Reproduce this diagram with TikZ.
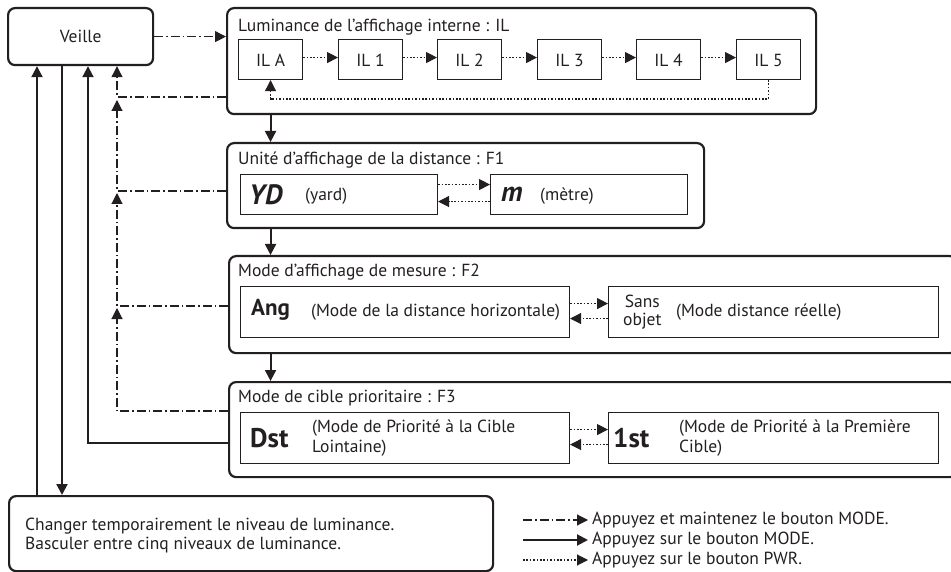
\documentclass[tikz,border=0pt]{standalone}
\usepackage{fontspec}
\setmainfont{PT Sans}
\usetikzlibrary{arrows.meta}
\definecolor{ink}{HTML}{231F20}
\begin{document}
\begin{tikzpicture}[x=1pt,y=-1pt, color=ink,
  every node/.style={font=\fontsize{17.5}{20}\selectfont, text=ink},
  outer/.style={draw=ink, line width=2.2pt, rounded corners=7pt, anchor=north west, inner sep=0pt},
  inbox/.style={draw=ink, line width=1.1pt, anchor=north west, inner sep=0pt},
  ttl/.style={anchor=west, inner sep=0pt},
  tip/.style={-{Triangle[length=11pt,width=11pt]}},
  modeln/.style={tip, line width=2pt},
  holdln/.style={tip, line width=1.1pt, dash pattern=on 9pt off 3pt on 1.5pt off 3pt},
  pwrln/.style={tip, line width=1.1pt, dash pattern=on 1.6pt off 1.8pt},
  big/.style={font=\fontsize{23}{24}\selectfont\bfseries, anchor=west, inner sep=0pt},
  bigb/.style={font=\fontsize{27}{28}\selectfont\bfseries, anchor=west, inner sep=0pt},
  bigit/.style={font=\fontsize{28}{29}\selectfont\bfseries\itshape, anchor=west, inner sep=0pt},
  txt/.style={anchor=west, inner sep=0pt, align=left}
]
\useasboundingbox (0,0) rectangle (951,572);

% Veille
\node[outer, minimum width=145pt, minimum height=57pt] (veille) at (7,7) {};
\node at (veille.center) (veilletxt) {Veille};

% IL box
\node[outer, minimum width=589pt, minimum height=106pt] (il) at (226,7) {};
\node[ttl] (iltitle) at (238,27) {Luminance de l'affichage interne : IL};
\node[inbox, minimum width=64pt, minimum height=40pt] (ila) at (238,39) {};
\node[inbox, minimum width=64pt, minimum height=40pt] (il1) at (338,39) {};
\node[inbox, minimum width=64pt, minimum height=40pt] (il2) at (437,39) {};
\node[inbox, minimum width=64pt, minimum height=40pt] (il3) at (537,39) {};
\node[inbox, minimum width=64pt, minimum height=40pt] (il4) at (636,39) {};
\node[inbox, minimum width=64pt, minimum height=40pt] (il5) at (736,39) {};
\node at ([yshift=-1pt]ila.center) {IL A};
\node at ([yshift=-1pt]il1.center) {IL 1};
\node at ([yshift=-1pt]il2.center) {IL 2};
\node at ([yshift=-1pt]il3.center) {IL 3};
\node at ([yshift=-1pt]il4.center) {IL 4};
\node at ([yshift=-1pt]il5.center) {IL 5};
\draw[pwrln] ([yshift=2pt]ila.east) -- ([yshift=2pt]il1.west);
\draw[pwrln] ([yshift=2pt]il1.east) -- ([yshift=2pt]il2.west);
\draw[pwrln] ([yshift=2pt]il2.east) -- ([yshift=2pt]il3.west);
\draw[pwrln] ([yshift=2pt]il3.east) -- ([yshift=2pt]il4.west);
\draw[pwrln] ([yshift=2pt]il4.east) -- ([yshift=2pt]il5.west);
\coordinate (ilret) at (0,99);
\draw[pwrln] (il5.south) |- (ilret -| ila.south) -- (ila.south);

% F1
\node[outer, minimum width=477pt, minimum height=85pt] (f1) at (226,142) {};
\node[ttl] (f1title) at (238,160) {Unité d'affichage de la distance : F1};
\node[inbox, minimum width=197pt, minimum height=40pt] (yd) at (240,174) {};
\node[inbox, minimum width=197pt, minimum height=40pt] (m) at (490,174) {};
\node[bigit] (ydt) at (249,195) {YD};
\node[txt] (ydl) at (305,196) {(yard)};
\node[bigit] (mt) at (501,194) {m};
\node[txt] (ml) at (540,196) {(mètre)};
\draw[pwrln] ([yshift=10pt]yd.east) -- ([yshift=10pt]m.west);
\draw[pwrln] ([yshift=-7pt]m.west) -- ([yshift=-7pt]yd.east);

% F2
\node[outer, minimum width=728pt, minimum height=97pt] (f2) at (228,255) {};
\node[ttl] (f2title) at (238,272) {Mode d'affichage de mesure : F2};
\node[inbox, minimum width=329pt, minimum height=51pt] (ang) at (240,286) {};
\node[inbox, minimum width=330pt, minimum height=51pt] (sans) at (608,286) {};
\node[big] (angt) at (251,310) {Ang};
\node[txt] (angl) at (311,312) {(Mode de la distance horizontale)};
\node[txt, align=center, font=\fontsize{17.5}{18}\selectfont] (sanst) at (623,312) {Sans\\objet};
\node[txt] (sansl) at (676,312) {(Mode distance réelle)};
\draw[pwrln] ([yshift=8.5pt]ang.east) -- ([yshift=8.5pt]sans.west);
\draw[pwrln] ([yshift=-6.5pt]sans.west) -- ([yshift=-6.5pt]ang.east);

% F3
\node[outer, minimum width=728pt, minimum height=95pt] (f3) at (228,381) {};
\node[ttl] (f3title) at (238,398) {Mode de cible prioritaire : F3};
\node[inbox, minimum width=329pt, minimum height=51pt] (dst) at (240,412) {};
\node[inbox, minimum width=330pt, minimum height=51pt] (fst) at (608,412) {};
\node[bigb] (dstt) at (250,438) {Dst};
\node[txt, font=\fontsize{17.5}{20}\selectfont] (dstl) at (312,438) {(Mode de Priorité à la Cible\\Lointaine)};
\node[bigb] (fstt) at (613,438) {1st};
\node[txt, font=\fontsize{17.5}{20}\selectfont] (fstl) at (679,438) {(Mode de Priorité à la Première\\Cible)};
\draw[pwrln] ([yshift=8.5pt]dst.east) -- ([yshift=8.5pt]fst.west);
\draw[pwrln] ([yshift=-6.5pt]fst.west) -- ([yshift=-6.5pt]dst.east);

% bottom box
\node[outer, minimum width=484pt, minimum height=75pt] (bot) at (8,495) {};
\node[txt, font=\fontsize{17.5}{19}\selectfont] (bott) at (25,536) {Changer temporairement le niveau de luminance.\\Basculer entre cinq niveaux de luminance.};

% vertical solid arrows between stages
\draw[modeln] (il.south -| ila.south) -- (f1.north -| ila.south);
\draw[modeln] (f1.south -| ila.south) -- (f2.north -| ila.south);
\draw[modeln] (f2.south -| ila.south) -- (f3.north -| ila.south);

% veille -> IL
\draw[holdln] (veille.east) -- (veille.east -| il.west);

% return dash-dot lines
\coordinate (jil) at (117,97);
\coordinate (jf1) at (117,191);
\coordinate (jf2) at (117,306);
\coordinate (jf3) at (117,411);
\draw[holdln] (il.west |- jil) -| (veille.south -| jil);
\draw[holdln, shorten >=-2.5pt] (f1.west |- jf1) -| ([yshift=-5.5pt]jil);
\draw[holdln, shorten >=-2pt] (f2.west |- jf2) -| ([yshift=-4pt]jf1);
\draw[holdln, shorten >=-2pt] (f3.west |- jf3) -| ([yshift=-4pt]jf2);

% solid lines
\coordinate (js) at (88,443);
\coordinate (jd) at (62,0);
\coordinate (ju) at (37,0);
\draw[modeln] (f3.west |- js) -| (veille.south -| js);
\draw[modeln] (veille.south -| jd) -- (bot.north -| jd);
\draw[modeln] (bot.north -| ju) -- (veille.south -| ju);

% legend
\node[txt] (lg1) at (592,520) {Appuyez et maintenez le bouton MODE.};
\node[txt] (lg2) at (592,540) {Appuyez sur le bouton MODE.};
\node[txt] (lg3) at (592,560) {Appuyez sur le bouton PWR.};
\coordinate (lg1s) at (523,520);
\coordinate (lg2s) at (523,540);
\coordinate (lg3s) at (523,560);
\draw[holdln, shorten >=4pt] (lg1s) -- (lg1.west);
\draw[modeln, shorten >=4pt] (lg2s) -- (lg2.west);
\draw[pwrln, shorten >=4pt] (lg3s) -- (lg3.west);
\end{tikzpicture}
\end{document}
